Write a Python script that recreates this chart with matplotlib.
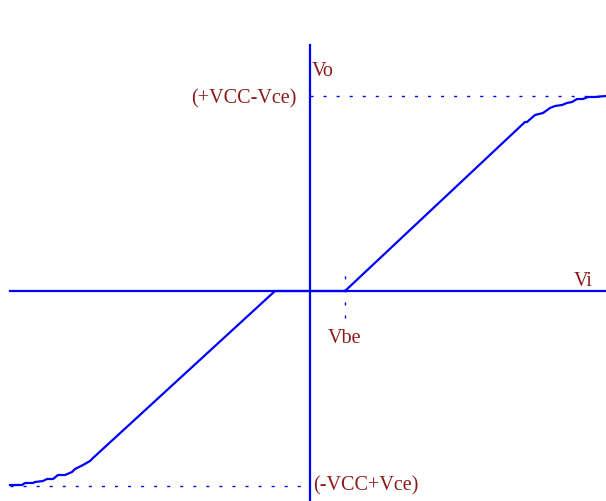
import matplotlib.pyplot as plt

# transfer characteristic Vo(Vi); origin where the two axes cross
vsat = 195           # +VCC-Vce level
vbe = 35             # knee on the Vi axis

curve_x = [-300, -288, -285, -277, -275, -267, -263, -257, -252, -245, -238, -235,
           -227, -220, -217, -35, 35, 215, 217, 225, 233, 240, 245, 252, 257,
           262, 267, 273, 278, 285, 296]
curve_y = [-194, -194, -192, -192, -191, -190, -188, -188, -184, -184, -181, -178,
           -174, -170, -167, 0, 0, 169, 169, 176, 178, 183, 185, 186, 188,
           189, 192, 192, 194, 194, 195]

label_vo = 'Vo'
label_vi = 'Vi'
label_vbe = 'Vbe'
label_top = '(+VCC-Vce)'
label_bot = '(-VCC+Vce)'

blue = '#0000ff'
red = '#8b1a1a'
plt.rcParams['font.family'] = ['Liberation Serif', 'DejaVu Serif']

fig = plt.figure(figsize=(6.06, 5.01), dpi=100)
ax = fig.add_axes([0, 0, 1, 1])
ax.set_xlim(-310, 296)
ax.set_ylim(-210, 291)
ax.axis('off')

# axes
ax.plot([-300, 296], [0, 0], color=blue, lw=1.6)
ax.plot([0, 0], [-210, 246], color=blue, lw=1.6)

# guide lines
dots = (0, (2.2, 7.2))
ax.plot([0, 296], [vsat, vsat], color=blue, lw=1, ls=dots)
ax.plot([-300, 0], [-vsat, -vsat], color=blue, lw=1, ls=dots)
ax.plot([vbe, vbe], [-27, 19], color=blue, lw=1, ls=dots)

ax.plot(curve_x, curve_y, color=blue, lw=1.6)

fs = 14.5
ax.text(2, 215, label_vo, color=red, fontsize=fs, ha='left', va='baseline')
ax.text(273, 5, label_vi, color=red, fontsize=fs, ha='center', va='baseline')
ax.text(vbe, -52, label_vbe, color=red, fontsize=fs, ha='center', va='baseline')
ax.text(-13, 188, label_top, color=red, fontsize=fs, ha='right', va='baseline')
ax.text(3, -199, label_bot, color=red, fontsize=fs, ha='left', va='baseline')

fig.savefig('out.png', dpi=100)
